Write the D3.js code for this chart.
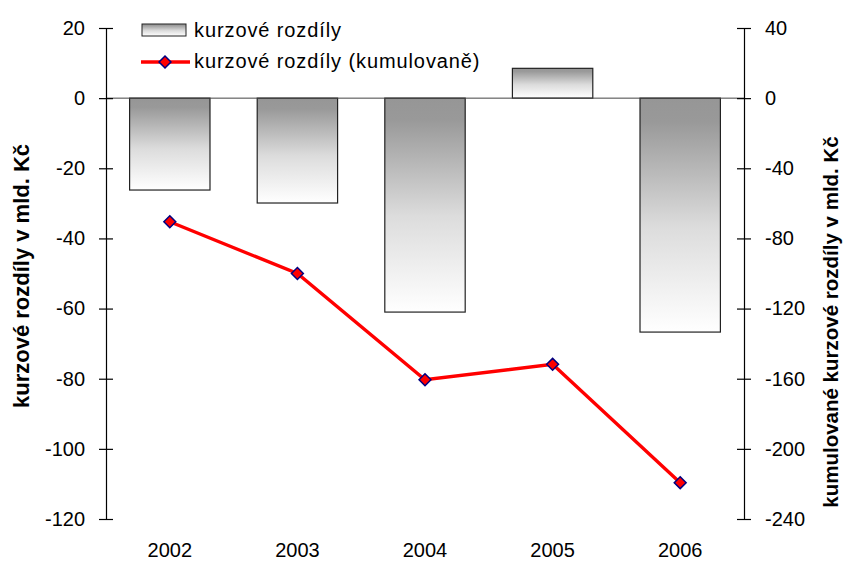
<!DOCTYPE html>
<html>
<head>
<meta charset="utf-8">
<script src="https://cdn.jsdelivr.net/npm/d3@7"></script>
<style>
  body { margin: 0; background: #fff; }
  text { font-family: "Liberation Sans", Arial, sans-serif; }
</style>
</head>
<body>
<script>
var years = ["2002", "2003", "2004", "2005", "2006"];
var rozdily = [-26.2, -29.9, -61, 8.5, -66.7];
var kumulovane = [-70.5, -100, -160.6, -151.8, -219.3];
var leftTicks = [20, 0, -20, -40, -60, -80, -100, -120];
var rightTicks = [40, 0, -40, -80, -120, -160, -200, -240];

var width = 849, height = 561;
var margin = { top: 28, right: 105, bottom: 42, left: 106 };

var svg = d3.select("body").append("svg")
  .attr("width", width)
  .attr("height", height);

var x = d3.scaleBand()
  .domain(years)
  .range([margin.left, width - margin.right])
  .paddingInner(0.37)
  .paddingOuter(0.185);

var y = d3.scaleLinear().domain([-120, 20]).range([height - margin.bottom, margin.top]);
var y2 = d3.scaleLinear().domain([-240, 40]).range([height - margin.bottom, margin.top]);

// plain hyphen minus like the original
var fmt = function (d) { return String(d); };

// gradient for bars
var defs = svg.append("defs");
var grad = defs.append("linearGradient")
  .attr("id", "barGrad")
  .attr("x1", 0).attr("y1", 0).attr("x2", 0).attr("y2", 1);
grad.append("stop").attr("offset", "0%").attr("stop-color", "#969696");
grad.append("stop").attr("offset", "10%").attr("stop-color", "#999999");
grad.append("stop").attr("offset", "55%").attr("stop-color", "#dcdcdc");
grad.append("stop").attr("offset", "100%").attr("stop-color", "#ffffff");

// bars
svg.append("g").selectAll("rect")
  .data(rozdily)
  .enter().append("rect")
  .attr("x", function (d, i) { return x(years[i]); })
  .attr("width", x.bandwidth())
  .attr("y", function (d) { return y(Math.max(0, d)); })
  .attr("height", function (d) { return Math.abs(y(d) - y(0)); })
  .attr("fill", "url(#barGrad)")
  .attr("stroke", "#222")
  .attr("stroke-width", 1.2);

// zero line
svg.append("line")
  .attr("x1", margin.left).attr("x2", width - margin.right)
  .attr("y1", y(0)).attr("y2", y(0))
  .attr("stroke", "#444").attr("stroke-width", 1);

// axes
var leftAxis = d3.axisLeft(y).tickValues(leftTicks).tickFormat(fmt).tickSize(7).tickPadding(14);
var gl = svg.append("g")
  .attr("transform", "translate(" + margin.left + ",0)")
  .call(leftAxis);
var rightAxis = d3.axisRight(y2).tickValues(rightTicks).tickFormat(fmt).tickSize(7).tickPadding(14);
var gr = svg.append("g")
  .attr("transform", "translate(" + (width - margin.right) + ",0)")
  .call(rightAxis);

[gl, gr].forEach(function (g) {
  g.select(".domain").attr("stroke", "#000").attr("stroke-width", 1.2);
  g.selectAll(".tick line").attr("stroke", "#000").attr("stroke-width", 1.2);
  g.selectAll(".tick text").attr("font-size", "20px").attr("fill", "#000")
    .attr("font-family", "Liberation Sans, Arial, sans-serif");
});
// ticks crossing the axis
gl.selectAll(".tick line").attr("x1", 7);
gr.selectAll(".tick line").attr("x1", -7);

// category labels
svg.append("g").selectAll("text")
  .data(years)
  .enter().append("text")
  .attr("x", function (d) { return x(d) + x.bandwidth() / 2; })
  .attr("y", 557)
  .attr("text-anchor", "middle")
  .attr("font-size", "20px")
  .text(function (d) { return d; });

// line
var line = d3.line()
  .x(function (d, i) { return x(years[i]) + x.bandwidth() / 2; })
  .y(function (d) { return y2(d); });

svg.append("path")
  .datum(kumulovane)
  .attr("d", line)
  .attr("fill", "none")
  .attr("stroke", "#ff0000")
  .attr("stroke-width", 3.4);

var diamond = d3.symbol().type(d3.symbolDiamond2).size(90);
svg.append("g").selectAll("path")
  .data(kumulovane)
  .enter().append("path")
  .attr("d", diamond)
  .attr("transform", function (d, i) {
    return "translate(" + (x(years[i]) + x.bandwidth() / 2) + "," + y2(d) + ")";
  })
  .attr("fill", "#ff0000")
  .attr("stroke", "#000080")
  .attr("stroke-width", 1.5);

// axis titles
svg.append("text")
  .attr("transform", "translate(29,276) rotate(-90)")
  .attr("text-anchor", "middle")
  .attr("font-size", "22px")
  .attr("font-weight", "bold")
  .text("kurzové rozdíly v mld. Kč");

svg.append("text")
  .attr("transform", "translate(838,322) rotate(-90)")
  .attr("text-anchor", "middle")
  .attr("font-size", "20.5px")
  .attr("font-weight", "bold")
  .text("kumulované kurzové rozdíly v mld. Kč");

// legend
var lg = svg.append("g");
lg.append("rect")
  .attr("x", 142).attr("y", 24).attr("width", 44).attr("height", 12)
  .attr("fill", "url(#barGrad)").attr("stroke", "#222").attr("stroke-width", 1);
lg.append("text")
  .attr("x", 194).attr("y", 37)
  .attr("font-size", "20px")
  .attr("letter-spacing", "0.9px")
  .text("kurzové rozdíly");
lg.append("line")
  .attr("x1", 141).attr("x2", 190).attr("y1", 62).attr("y2", 62)
  .attr("stroke", "#ff0000").attr("stroke-width", 3.4);
lg.append("path")
  .attr("d", diamond)
  .attr("transform", "translate(165,62)")
  .attr("fill", "#ff0000").attr("stroke", "#000080").attr("stroke-width", 1.5);
lg.append("text")
  .attr("x", 194).attr("y", 68)
  .attr("font-size", "20px")
  .attr("letter-spacing", "0.9px")
  .text("kurzové rozdíly (kumulovaně)");
</script>
</body>
</html>
